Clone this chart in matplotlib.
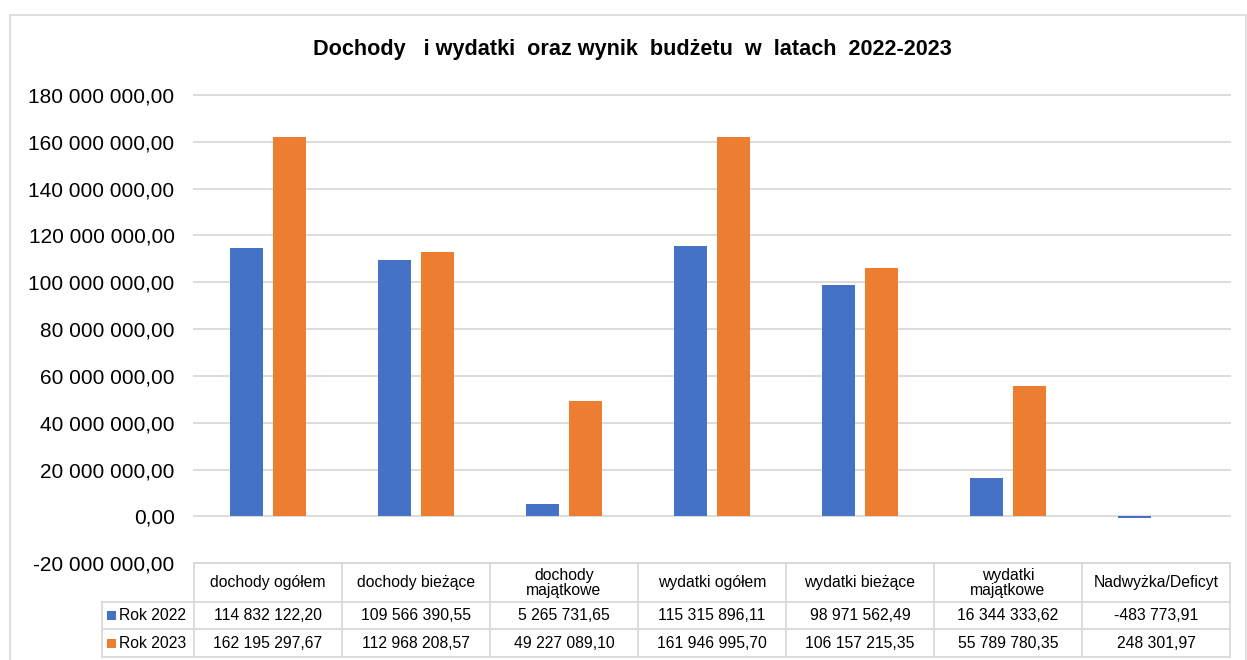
import numpy as np
import matplotlib
matplotlib.use("Agg")
import matplotlib.pyplot as plt
from matplotlib.patches import Rectangle
from matplotlib.lines import Line2D

plt.rcParams['font.family'] = ['Liberation Sans', 'DejaVu Sans']

categories = ["dochody ogółem", "dochody bieżące", "dochody\nmajątkowe",
              "wydatki ogółem", "wydatki bieżące", "wydatki\nmajątkowe",
              "Nadwyżka/Deficyt"]
rok_2022 = [114832122.20, 109566390.55, 5265731.65, 115315896.11,
            98971562.49, 16344333.62, -483773.91]
rok_2023 = [162195297.67, 112968208.57, 49227089.10, 161946995.70,
            106157215.35, 55789780.35, 248301.97]
series_names = ["Rok 2022", "Rok 2023"]
colors = ["#4472C4", "#ED7D31"]
yticks = np.arange(-20e6, 180e6 + 1, 20e6)

W, H = 1247, 660
GRID = "#d9d9d9"


def fmt(v):
    return f"{v:,.2f}".replace(",", " ").replace(".", ",")


def fx(x):
    return x / W


def fy(y):
    return 1 - y / H


fig = plt.figure(figsize=(W / 100, H / 100), dpi=100)

# chart border
fig.add_artist(Rectangle((fx(10), fy(700)), fx(1236), (700 - 15) / H,
                         transform=fig.transFigure, fill=False,
                         edgecolor=GRID, linewidth=1.2))

left, right, top, bottom = 194, 1230, 95, 563.3
ax = fig.add_axes([fx(left), fy(bottom), (right - left) / W, (bottom - top) / H])

x = np.arange(len(categories))
bw = 0.223
ax.bar(x - 0.142, rok_2022, bw, color=colors[0], zorder=3)
ax.bar(x + 0.142, rok_2023, bw, color=colors[1], zorder=3)

ax.set_xlim(-0.5, len(categories) - 0.5)
ax.set_ylim(-20e6, 180e6)
ax.set_yticks(yticks)
ax.set_yticklabels([fmt(v) for v in yticks], fontsize=15)
ax.set_xticks([])
ax.tick_params(axis='y', length=0, pad=14)
ax.yaxis.grid(True, color=GRID, linewidth=1.3)
for gl in ax.get_ygridlines():
    gl.set_clip_on(False)
for s in ax.spines.values():
    s.set_visible(False)

fig.text(fx(632.5), fy(49), "Dochody   i wydatki  oraz wynik  budżetu  w  latach  2022-2023",
         ha='center', va='center', fontsize=15.6, fontweight='bold')

# data table
edges = np.linspace(left, right, len(categories) + 1)
row_y = [563.3, 602, 629, 657]
lab_left = 102


def hline(x0, x1, y):
    fig.add_artist(Line2D([fx(x0), fx(x1)], [fy(y), fy(y)],
                          transform=fig.transFigure, color=GRID, linewidth=1.3))


def vline(x, y0, y1):
    fig.add_artist(Line2D([fx(x), fx(x)], [fy(y0), fy(y1)],
                          transform=fig.transFigure, color=GRID, linewidth=1.3))


hline(left, right, row_y[0])
for y in row_y[1:]:
    hline(lab_left, right, y)
for e in edges:
    vline(e, row_y[0], row_y[3])
vline(lab_left, row_y[1], row_y[3])

fs = 11.3
for i, c in enumerate(categories):
    cx = (edges[i] + edges[i + 1]) / 2
    fig.text(fx(cx), fy((row_y[0] + row_y[1]) / 2), c, ha='center', va='center',
             fontsize=fs, linespacing=1.0)
    for r, vals in enumerate([rok_2022, rok_2023]):
        cy = (row_y[r + 1] + row_y[r + 2]) / 2
        fig.text(fx(cx), fy(cy), fmt(vals[i]), ha='center', va='center', fontsize=fs)

for r, name in enumerate(series_names):
    cy = (row_y[r + 1] + row_y[r + 2]) / 2
    fig.add_artist(Rectangle((fx(107), fy(cy + 4.5)), 9 / W, 9 / H,
                             transform=fig.transFigure, color=colors[r], linewidth=0))
    fig.text(fx(119), fy(cy), name, ha='left', va='center', fontsize=fs)

fig.savefig("out.png", dpi=100)
